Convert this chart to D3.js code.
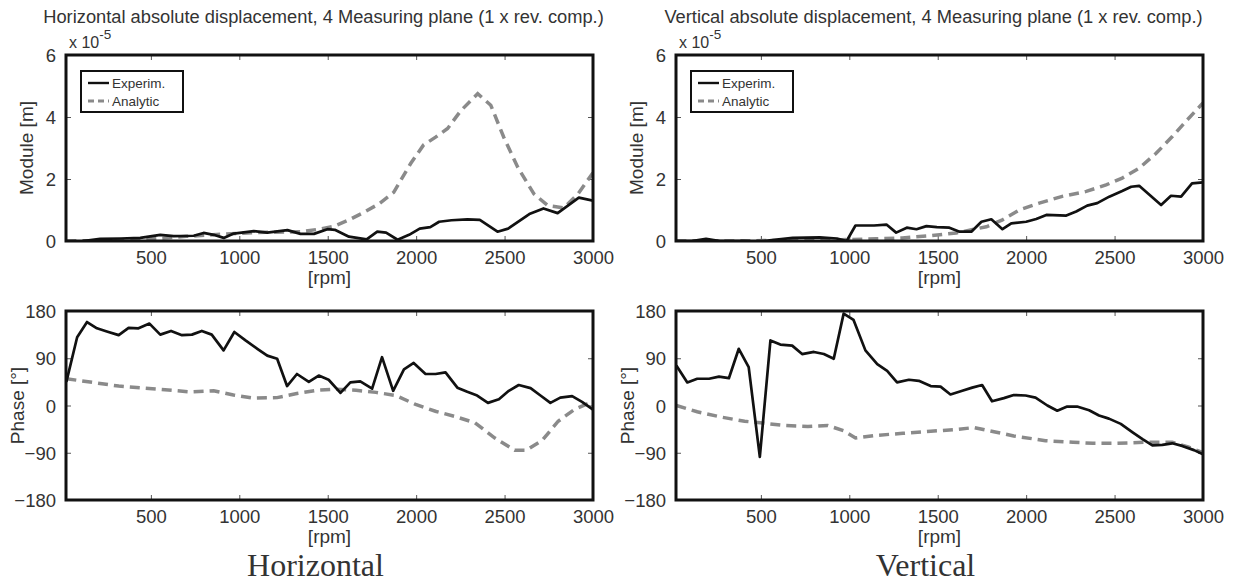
<!DOCTYPE html>
<html><head><meta charset="utf-8">
<script src="https://cdn.jsdelivr.net/npm/d3@7"></script>
<style>
body{margin:0;background:#fff}
svg{display:block}
text{font-family:"Liberation Sans",Arial,Helvetica,sans-serif;fill:#333}
</style>
</head><body>
<svg id="c" width="1238" height="584"></svg>
<script>
// ---------- data ----------
const xTicks = [500, 1000, 1500, 2000, 2500, 3000];
const moduleTicks = [0, 2, 4, 6];
const phaseTicks = [-180, -90, 0, 90, 180];
const seriesNames = ["Experim.", "Analytic"];
const panelTitles = ["Horizontal absolute displacement, 4 Measuring plane (1 x rev. comp.)",
                     "Vertical absolute displacement, 4 Measuring plane (1 x rev. comp.)"];
const columnLabels = ["Horizontal", "Vertical"];

// Horizontal module (x 1e-5 m)
const hModExpRpm = [22,116,213,330,440,553,629,742,798,855,912,968,1082,1158,1272,1346,1422,1498,1540,1620,1720,1780,1830,1895,1960,2020,2080,2130,2200,2290,2360,2460,2520,2640,2720,2800,2920,3000];
const hModExp    = [-0.04,0.0,0.07,0.08,0.1,0.2,0.16,0.17,0.26,0.2,0.1,0.24,0.32,0.27,0.35,0.23,0.23,0.38,0.36,0.14,0.05,0.3,0.27,0.04,0.2,0.4,0.45,0.62,0.67,0.7,0.68,0.3,0.4,0.87,1.05,0.9,1.4,1.3];
const hModAnaRpm = [22,300,550,700,850,1000,1150,1346,1450,1533,1620,1703,1790,1873,1969,2042,2110,2178,2252,2348,2422,2496,2575,2666,2745,2836,2915,3000];
const hModAna    = [0.0,0.02,0.08,0.15,0.2,0.25,0.28,0.3,0.38,0.47,0.68,0.92,1.2,1.57,2.5,3.1,3.35,3.63,4.2,4.75,4.38,3.34,2.37,1.52,1.14,1.07,1.52,2.2];

// Vertical module (x 1e-5 m)
const vModExpRpm = [22,110,190,268,400,500,550,680,833,930,985,1035,1140,1210,1265,1325,1380,1436,1495,1566,1623,1690,1747,1803,1866,1916,2000,2057,2114,2227,2283,2345,2402,2470,2543,2594,2639,2763,2819,2876,2938,3000];
const vModExp    = [0.0,0.0,0.07,0.0,0.0,-0.03,0.02,0.1,0.12,0.08,0.0,0.5,0.5,0.53,0.27,0.43,0.38,0.48,0.45,0.43,0.3,0.3,0.62,0.7,0.38,0.57,0.62,0.71,0.84,0.82,0.95,1.14,1.22,1.43,1.61,1.75,1.78,1.16,1.46,1.43,1.86,1.89];
const vModAnaRpm = [22,300,600,900,1000,1150,1300,1453,1605,1680,1775,1866,1961,2074,2204,2340,2452,2543,2639,2735,2825,2921,3000];
const vModAna    = [0.0,0.0,0.02,0.03,0.05,0.07,0.1,0.17,0.26,0.35,0.46,0.68,1.0,1.22,1.44,1.6,1.81,2.03,2.35,2.83,3.36,3.97,4.45];

// Horizontal phase (deg)
const hPhaExpRpm = [22,83,139,195,251,318,374,430,492,553,614,676,732,788,844,911,972,1035,1102,1158,1214,1270,1326,1393,1449,1505,1572,1628,1684,1751,1807,1870,1931,1986,2053,2110,2166,2233,2289,2345,2406,2468,2524,2580,2647,2703,2759,2815,2882,2938,3000];
const hPhaExp    = [45,130,159,147,141,134,148,147,156,135,142,134,135,142,135,105,140,124,108,95,89,37,60,45,57,49,24,44,46,32,92,28,69,81,60,60,63,34,26,19,5,12,28,39,33,19,5,15,18,7,-8];
const hPhaAnaRpm = [22,318,542,721,855,967,1079,1214,1325,1437,1550,1661,1773,1885,1997,2109,2221,2333,2445,2557,2624,2714,2803,2893,3000];
const hPhaAna    = [51,37,31,26,28,20,14,15,23,29,31,29,25,19,2,-11,-21,-33,-62,-85,-85,-66,-30,-8,8];

// Vertical phase (deg)
const vPhaExpRpm = [22,84,140,207,263,319,375,431,494,554,610,677,733,800,856,912,968,1024,1091,1158,1214,1270,1337,1393,1460,1516,1572,1639,1695,1751,1807,1874,1930,1997,2053,2120,2176,2232,2288,2356,2412,2468,2535,2602,2658,2714,2770,2826,2882,2949,3000];
const vPhaExp    = [76,44,51,51,55,52,108,73,-98,124,116,114,98,102,98,89,175,163,105,79,66,44,49,47,37,36,21,28,34,39,8,14,20,19,15,0,-10,-2,-2,-9,-19,-25,-35,-51,-64,-76,-75,-72,-77,-85,-93];
const vPhaAnaRpm = [22,140,275,408,498,632,766,878,968,1035,1147,1303,1460,1594,1706,1818,1930,2109,2265,2377,2511,2668,2826,2916,3000];
const vPhaAna    = [0,-12,-22,-30,-33,-38,-40,-38,-48,-62,-57,-53,-49,-46,-42,-50,-58,-67,-70,-72,-72,-70,-70,-79,-90];

const xDomain = [20, 3000];

// ---------- layout ----------
const svg = d3.select("#c");
const colLeft = [66, 676];
const plotW = 527;
const rowTop = [55, 311];
const rowH = [186, 189];
const fmt = d3.format("d");

const zip = (xs, ys) => xs.map((x, i) => ({x, y: ys[i]}));

const panels = [
  {col:0,row:0,kind:"module",exp:zip(hModExpRpm,hModExp),ana:zip(hModAnaRpm,hModAna)},
  {col:1,row:0,kind:"module",exp:zip(vModExpRpm,vModExp),ana:zip(vModAnaRpm,vModAna)},
  {col:0,row:1,kind:"phase",exp:zip(hPhaExpRpm,hPhaExp),ana:zip(hPhaAnaRpm,hPhaAna)},
  {col:1,row:1,kind:"phase",exp:zip(vPhaExpRpm,vPhaExp),ana:zip(vPhaAnaRpm,vPhaAna)}
];

panels.forEach((p, i) => {
  const L = colLeft[p.col], T = rowTop[p.row], W = plotW, H = rowH[p.row];
  const g = svg.append("g").attr("transform", `translate(${L},${T})`);
  const x = d3.scaleLinear().domain(xDomain).range([0, W]);
  const y = p.kind === "module"
    ? d3.scaleLinear().domain([0, 6]).range([H, 0])
    : d3.scaleLinear().domain([-180, 180]).range([H, 0]);
  const yTicks = p.kind === "module" ? moduleTicks : phaseTicks;

  g.append("clipPath").attr("id", "cp" + i).append("rect").attr("width", W).attr("height", H);

  // axes
  const xa = g.append("g").attr("transform", `translate(0,${H})`)
    .call(d3.axisBottom(x).tickValues(xTicks).tickSize(-5).tickPadding(10).tickFormat(fmt));
  const xt = g.append("g").call(d3.axisTop(x).tickValues(xTicks).tickSize(-5).tickFormat(""));
  const ya = g.append("g").call(d3.axisLeft(y).tickValues(yTicks).tickSize(-5).tickPadding(10).tickFormat(fmt));
  const yr = g.append("g").attr("transform", `translate(${W},0)`)
    .call(d3.axisRight(y).tickValues(yTicks).tickSize(-5).tickFormat(""));
  [xa, xt, ya, yr].forEach(a => {
    a.select(".domain").remove();
    a.selectAll(".tick line").attr("stroke", "#555").attr("stroke-width", 1);
    a.selectAll("text").attr("font-size", 18.5).attr("fill", "#333")
      .style("font-family", '"Liberation Sans", Arial, sans-serif');
  });
  ya.selectAll("text").attr("dy", "0.36em");

  const line = d3.line().x(d => x(d.x)).y(d => y(d.y));
  const cg = g.append("g").attr("clip-path", `url(#cp${i})`);
  cg.append("path").datum(p.ana).attr("d", line).attr("fill", "none")
    .attr("stroke", "#8a8a8a").attr("stroke-width", 3.5).attr("stroke-dasharray", "10,6");
  cg.append("path").datum(p.exp).attr("d", line).attr("fill", "none")
    .attr("stroke", "#111").attr("stroke-width", 2.7).attr("stroke-linejoin", "round");

  // border
  g.append("rect").attr("width", W).attr("height", H).attr("fill", "none")
    .attr("stroke", "#111").attr("stroke-width", 3);

  // x label
  g.append("text").attr("x", W / 2).attr("y", H + 43).attr("text-anchor", "middle")
    .attr("font-size", 19).text("[rpm]");
  // y label
  const yl = p.kind === "module" ? "Module [m]" : "Phase [°]";
  const ylx = p.kind === "module" ? -33 : -42;
  g.append("text").attr("transform", `translate(${ylx},${H / 2}) rotate(-90)`)
    .attr("text-anchor", "middle").attr("font-size", 19).text(yl);

  if (p.kind === "module") {
    // exponent
    const ex = g.append("text").attr("x", 3).attr("y", -7).attr("font-size", 16);
    ex.append("tspan").text("x 10");
    ex.append("tspan").attr("dy", -9).attr("font-size", 13.5).text("-5");
    // title
    g.append("text").attr("x", W / 2 - 6).attr("y", -32).attr("text-anchor", "middle")
      .attr("font-size", 18.3).text(panelTitles[p.col]);
    // legend
    const lg = g.append("g").attr("transform", "translate(15,16)");
    lg.append("rect").attr("width", 102).attr("height", 41).attr("fill", "#fff")
      .attr("stroke", "#111").attr("stroke-width", 2);
    seriesNames.forEach((nm, k) => {
      const yy = 12 + k * 18;
      lg.append("line").attr("x1", 7).attr("x2", 28).attr("y1", yy).attr("y2", yy)
        .attr("stroke", k === 0 ? "#111" : "#8a8a8a").attr("stroke-width", k === 0 ? 2.4 : 3)
        .attr("stroke-dasharray", k === 0 ? null : "6,4");
      lg.append("text").attr("x", 31).attr("y", yy).attr("dy", "0.35em")
        .attr("font-size", 13.5).text(nm);
    });
  } else {
    g.append("text").attr("x", W / 2 - 14).attr("y", H + 76).attr("text-anchor", "middle")
      .attr("font-size", 32).style("font-family", '"Liberation Serif","Times New Roman",serif')
      .attr("fill", "#222").text(columnLabels[p.col]);
  }
});
</script>
</body></html>
